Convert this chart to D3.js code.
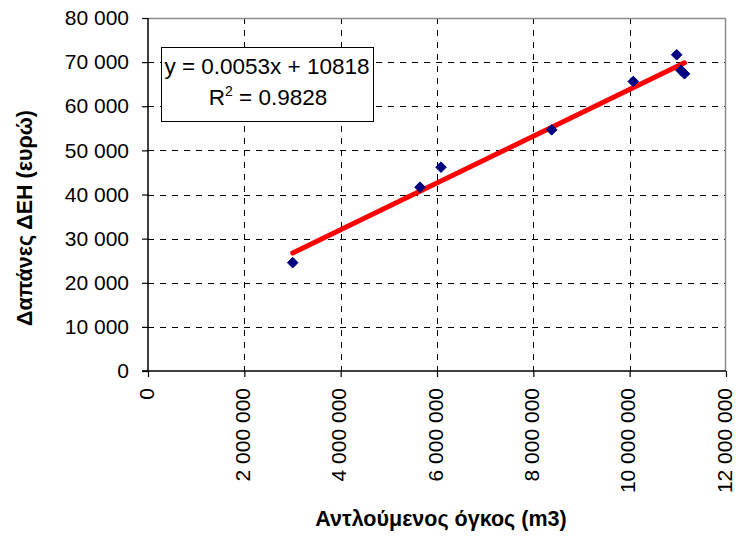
<!DOCTYPE html>
<html>
<head>
<meta charset="utf-8">
<script src="https://cdn.jsdelivr.net/npm/d3@7"></script>
<style>
  html, body { margin: 0; padding: 0; background: #fff; }
  svg { display: block; font-family: "Liberation Sans", Arial, sans-serif; }
</style>
</head>
<body>
<svg id="chart" width="736" height="536"></svg>
<script>
// Pumped volume (m3) and electricity cost (euro) per period
const pumpedVolume = [3004000, 5647000, 6083000, 8381000, 10075000, 10976000, 11066000, 11139000];
const powerCost    = [24560,   41660,   46200,   54660,   65610,    71670,    68150,    67360];

// Linear fit as printed in the equation box
const fitSlope = 0.0053;
const fitIntercept = 10818;
const fitR2 = "0.9828";

const xTickValues = [0, 2000000, 4000000, 6000000, 8000000, 10000000, 12000000];
const yTickValues = [0, 10000, 20000, 30000, 40000, 50000, 60000, 70000, 80000];

const xTitle = "Αντλούμενος όγκος (m3)";
const yTitle = "Δαπάνες ΔΕΗ (ευρώ)";

const W = 736, H = 536;
const margin = { top: 18, right: 10, bottom: 165, left: 148 };
const innerW = W - margin.left - margin.right;
const innerH = H - margin.top - margin.bottom;

const svg = d3.select("#chart");
const g = svg.append("g").attr("transform", `translate(${margin.left},${margin.top})`);

const x = d3.scaleLinear().domain([0, 12000000]).range([0, innerW]);
const y = d3.scaleLinear().domain([0, 80000]).range([innerH, 0]);

const fmt = v => d3.format(",")(v).replace(/,/g, " ");

// Dashed grid
g.append("g").selectAll("line").data(yTickValues.filter(v => v > 0 && v < 80000)).join("line")
  .attr("x1", 0).attr("x2", innerW)
  .attr("y1", d => Math.round(y(d)) + 0.5).attr("y2", d => Math.round(y(d)) + 0.5)
  .attr("stroke", "#000").attr("stroke-width", 1).attr("stroke-dasharray", "6,6");
g.append("g").selectAll("line").data(xTickValues.filter(v => v > 0 && v < 12000000)).join("line")
  .attr("y1", 0).attr("y2", innerH)
  .attr("x1", d => Math.round(x(d)) + 0.5).attr("x2", d => Math.round(x(d)) + 0.5)
  .attr("stroke", "#000").attr("stroke-width", 1).attr("stroke-dasharray", "6,6");

// Plot area frame (top and right)
g.append("path")
  .attr("d", `M0,0.5H${innerW - 0.5}V${innerH}`)
  .attr("fill", "none").attr("stroke", "#8c8c8c").attr("stroke-width", 1.5);

// Axes
const yAxis = d3.axisLeft(y).tickValues(yTickValues).tickFormat(fmt).tickSize(6).tickPadding(13);
const xAxis = d3.axisBottom(x).tickValues(xTickValues).tickFormat(fmt).tickSize(6).tickPadding(0);

const gy = g.append("g").call(yAxis);
gy.select(".domain").attr("stroke", "#000").attr("stroke-width", 1.5).attr("d", `M0,0V${innerH}`);
gy.selectAll(".tick line").attr("stroke", "#000").attr("stroke-width", 1.2);
gy.selectAll(".tick text").attr("font-size", 21).attr("fill", "#000")
  .attr("font-family", "'Liberation Sans', Arial, sans-serif");

const gx = g.append("g").attr("transform", `translate(0,${innerH})`).call(xAxis);
gx.select(".domain").attr("stroke", "#000").attr("stroke-width", 1.5).attr("d", `M-6,0H${innerW}`);
gx.selectAll(".tick line").attr("stroke", "#000").attr("stroke-width", 1.2);
gx.selectAll(".tick text")
  .attr("font-size", 21).attr("fill", "#000")
  .attr("font-family", "'Liberation Sans', Arial, sans-serif")
  .attr("text-anchor", "end")
  .attr("transform", "translate(0,17) rotate(-90)")
  .attr("x", 0).attr("y", 0).attr("dy", 5);

// Trend line across the observed volume range
const xMin = d3.min(pumpedVolume), xMax = d3.max(pumpedVolume);
g.append("line")
  .attr("x1", x(xMin)).attr("y1", y(fitSlope * xMin + fitIntercept))
  .attr("x2", x(xMax)).attr("y2", y(fitSlope * xMax + fitIntercept))
  .attr("stroke", "#ff0000").attr("stroke-width", 5).attr("stroke-linecap", "round");

// Observations as diamonds
const diamond = d3.symbol().type(d3.symbolDiamond2).size(72);
g.append("g").selectAll("path").data(pumpedVolume.map((v, i) => [v, powerCost[i]])).join("path")
  .attr("d", diamond)
  .attr("transform", d => `translate(${x(d[0])},${y(d[1])})`)
  .attr("fill", "#000080").attr("stroke", "#000080").attr("stroke-width", 1);

// Equation box
const box = svg.append("g").attr("transform", "translate(161,47)");
box.append("rect").attr("x", 0.5).attr("y", 0.5).attr("width", 212).attr("height", 74)
  .attr("fill", "#fff").attr("stroke", "#000").attr("stroke-width", 1);
box.append("text").attr("x", 106).attr("y", 27).attr("text-anchor", "middle")
  .attr("font-size", 22.5).attr("fill", "#000")
  .text(`y = ${fitSlope}x + ${fitIntercept}`);
const r2 = box.append("text").attr("x", 107).attr("y", 58).attr("text-anchor", "middle")
  .attr("font-size", 22.5).attr("fill", "#000");
r2.append("tspan").text("R");
r2.append("tspan").attr("font-size", 14).attr("dy", -9).text("2");
r2.append("tspan").attr("dy", 9).text(` = ${fitR2}`);

// Axis titles
svg.append("text").attr("x", 441).attr("y", 526).attr("text-anchor", "middle")
  .attr("font-size", 21.5).attr("font-weight", "bold").attr("fill", "#000").text(xTitle);
svg.append("text").attr("transform", "translate(32,218) rotate(-90)").attr("text-anchor", "middle")
  .attr("font-size", 21.5).attr("font-weight", "bold").attr("fill", "#000").text(yTitle);
</script>
</body>
</html>
